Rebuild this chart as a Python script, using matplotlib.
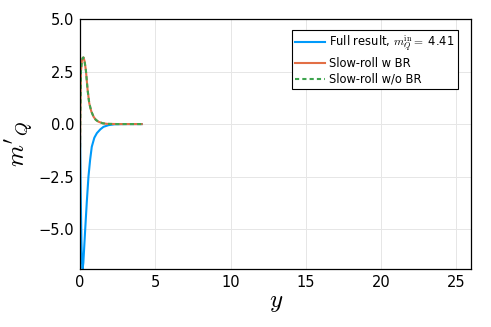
import matplotlib
matplotlib.use("Agg")
import matplotlib.pyplot as plt

plt.rcParams["mathtext.fontset"] = "cm"

# full result
y_full = [0, 0.04, 0.09, 0.13, 0.17, 0.22, 0.34, 0.45, 0.56, 0.67, 0.78, 0.95, 1.12, 1.35, 1.56, 1.9, 2.3, 3.0, 4.1]
m_full = [-0.5, -3.0, -5.5, -6.6, -6.88, -6.6, -5.05, -3.7, -2.5, -1.7, -1.08, -0.65, -0.43, -0.25, -0.13, -0.05, -0.01, 0.0, 0.0]

# slow-roll approximations
y_sr = [0, 0.02, 0.06, 0.12, 0.18, 0.23, 0.3, 0.39, 0.5, 0.61, 0.75, 0.9, 1.05, 1.23, 1.5, 1.8, 2.5, 4.1]
m_sr_br = [-1.1, 0.6, 2.5, 3.0, 3.15, 3.17, 3.0, 2.55, 1.65, 1.0, 0.6, 0.35, 0.2, 0.11, 0.04, 0.01, 0.0, 0.0]
m_sr_nobr = [-1.1, 0.6, 2.5, 3.0, 3.15, 3.17, 3.0, 2.55, 1.65, 1.0, 0.6, 0.35, 0.2, 0.11, 0.04, 0.01, 0.0, 0.0]

xticks = [0, 5, 10, 15, 20, 25]
yticks = [-5.0, -2.5, 0.0, 2.5, 5.0]

fig = plt.figure(figsize=(4.91, 3.27), dpi=100)
ax = fig.add_axes([0.163, 0.177, 0.797, 0.765])

ax.plot(y_full, m_full, color="#009AFA", lw=1.5, label=r"Full result, $m_Q^{\rm in} =$ 4.41")
ax.plot(y_sr, m_sr_br, color="#E26F46", lw=1.5, label="Slow-roll w BR")
ax.plot(y_sr, m_sr_nobr, color="#3EA44E", lw=1.5, ls=(0, (2, 1.5)), label="Slow-roll w/o BR")

ax.set_xlim(0, 26)
ax.set_ylim(-6.9, 5.0)
ax.set_xticks(xticks)
ax.set_yticks(yticks)
ax.set_yticklabels(["\u22125.0", "\u22122.5", "0.0", "2.5", "5.0"])
ax.tick_params(labelsize=10.5, length=0, pad=4)
ax.grid(True, color="#e6e6e6", lw=0.7)
for s in ax.spines.values():
    s.set_linewidth(0.9)

ax.set_xlabel(r"$y$", fontsize=18, labelpad=0)
ax.set_ylabel(r"$m'_Q$", fontsize=18, labelpad=2)

leg = ax.legend(loc="upper right", bbox_to_anchor=(0.9655, 0.956), borderaxespad=0,
                fontsize=8.3, frameon=True, fancybox=False, edgecolor="black", framealpha=1,
                handlelength=2.6, handletextpad=0.3, borderpad=0.3, labelspacing=0.25)
leg.get_frame().set_linewidth(0.8)

fig.savefig("out.png", dpi=100)
